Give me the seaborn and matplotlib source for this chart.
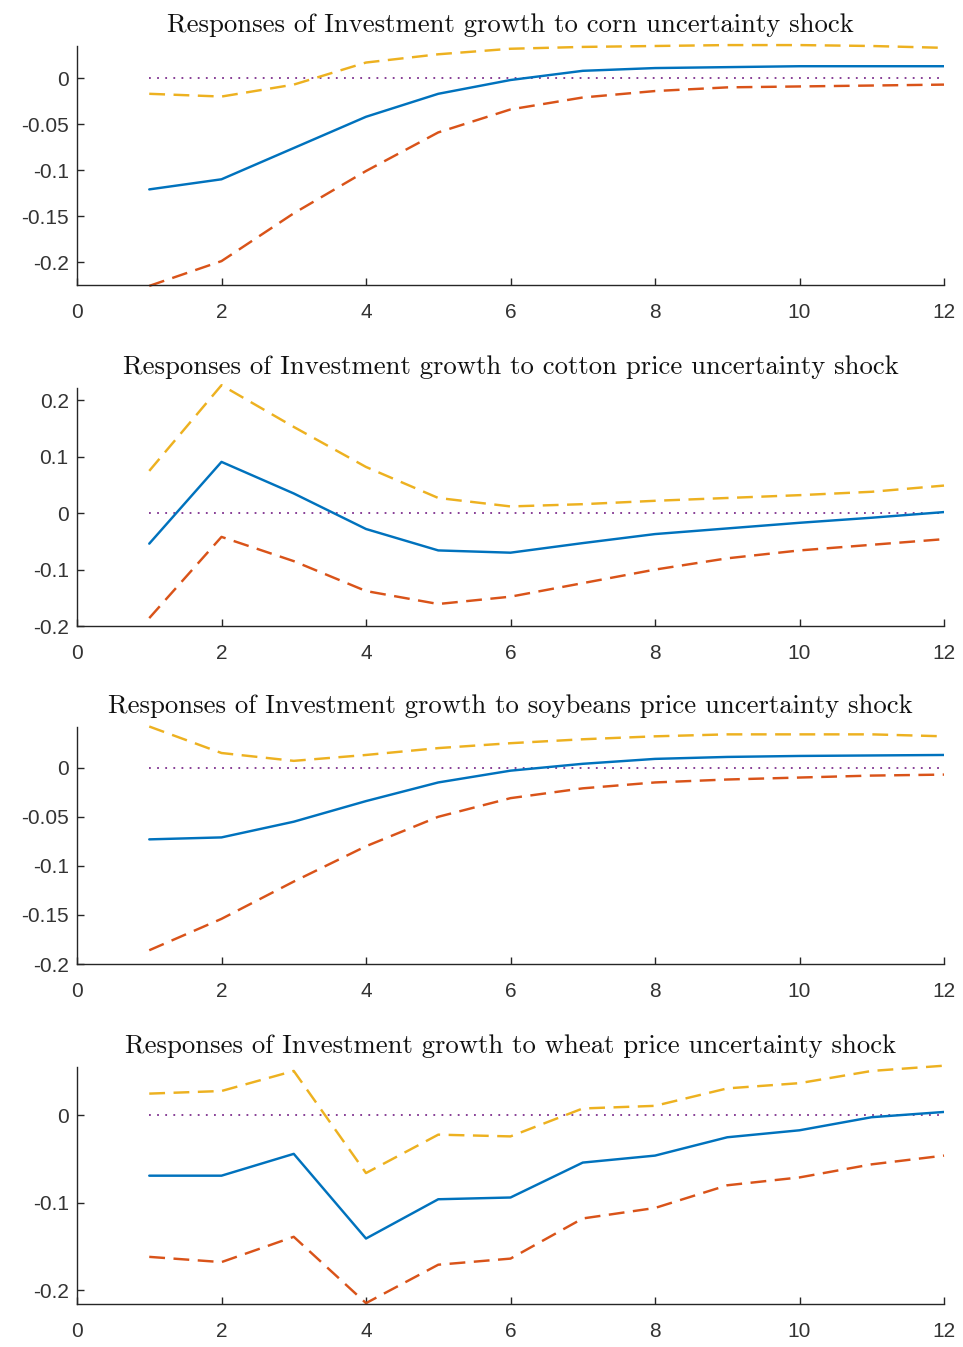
import numpy as np
import pandas as pd
import matplotlib
matplotlib.use("Agg")
import matplotlib.pyplot as plt
import seaborn as sns
from matplotlib.ticker import FuncFormatter

sns.set_theme(style="white")
plt.rcParams['font.family'] = ['Liberation Sans', 'DejaVu Sans']
plt.rcParams['axes.unicode_minus'] = False

horizon = list(range(1, 13))

titles = [
    "Responses of Investment growth to corn uncertainty shock",
    "Responses of Investment growth to cotton price uncertainty shock",
    "Responses of Investment growth to soybeans price uncertainty shock",
    "Responses of Investment growth to wheat price uncertainty shock",
]

corn_irf = [-0.121, -0.110, -0.076, -0.042, -0.017, -0.002, 0.008, 0.011, 0.012, 0.013, 0.013, 0.013]
corn_upper = [-0.017, -0.020, -0.007, 0.017, 0.026, 0.032, 0.034, 0.035, 0.036, 0.036, 0.035, 0.033]
corn_lower = [-0.226, -0.199, -0.147, -0.101, -0.059, -0.034, -0.021, -0.014, -0.010, -0.009, -0.008, -0.007]

cotton_irf = [-0.054, 0.091, 0.035, -0.028, -0.066, -0.070, -0.053, -0.037, -0.027, -0.017, -0.008, 0.002]
cotton_upper = [0.075, 0.227, 0.153, 0.082, 0.027, 0.012, 0.016, 0.022, 0.027, 0.032, 0.038, 0.049]
cotton_lower = [-0.186, -0.042, -0.085, -0.138, -0.161, -0.148, -0.124, -0.100, -0.080, -0.066, -0.056, -0.046]

soy_irf = [-0.073, -0.071, -0.055, -0.034, -0.015, -0.003, 0.004, 0.009, 0.011, 0.012, 0.0125, 0.013]
soy_upper = [0.042, 0.015, 0.007, 0.013, 0.020, 0.025, 0.029, 0.032, 0.034, 0.034, 0.034, 0.032]
soy_lower = [-0.186, -0.154, -0.116, -0.080, -0.050, -0.031, -0.021, -0.015, -0.012, -0.010, -0.008, -0.007]

wheat_irf = [-0.069, -0.069, -0.044, -0.141, -0.096, -0.094, -0.054, -0.046, -0.025, -0.017, -0.002, 0.004]
wheat_upper = [0.025, 0.028, 0.051, -0.066, -0.022, -0.024, 0.008, 0.011, 0.031, 0.037, 0.051, 0.057]
wheat_lower = [-0.162, -0.168, -0.139, -0.215, -0.171, -0.164, -0.118, -0.106, -0.080, -0.071, -0.056, -0.046]

zero_line = [0.0] * 12

panels = [
    (corn_irf, corn_upper, corn_lower),
    (cotton_irf, cotton_upper, cotton_lower),
    (soy_irf, soy_upper, soy_lower),
    (wheat_irf, wheat_upper, wheat_lower),
]

ylims = [(-0.225, 0.035), (-0.2, 0.222), (-0.2, 0.0415), (-0.216, 0.0555)]
yticks = [
    [-0.2, -0.15, -0.1, -0.05, 0],
    [-0.2, -0.1, 0, 0.1, 0.2],
    [-0.2, -0.15, -0.1, -0.05, 0],
    [-0.2, -0.1, 0],
]
xticks = [0, 2, 4, 6, 8, 10, 12]

W, H = 963, 1347
boxes = [(46, 285), (388, 626), (727, 964), (1067, 1304)]
left_px, right_px = 77, 944

c_blue = "#0072BD"
c_red = "#D95319"
c_yel = "#EDB120"
c_pur = "#7E2F8E"
c_txt = "#262626"

fig = plt.figure(figsize=(W / 100, H / 100), dpi=100)

fmt = FuncFormatter(lambda v, p: ("%g" % round(v, 4)))

for i, (irf, up, lo) in enumerate(panels):
    top, bot = boxes[i]
    ax = fig.add_axes([left_px / W, 1 - bot / H, (right_px - left_px) / W, (bot - top) / H])
    df = pd.DataFrame({"h": horizon, "irf": irf, "up": up, "lo": lo, "z": zero_line})
    sns.lineplot(data=df, x="h", y="z", ax=ax, color=c_pur, lw=1.3,
                 linestyle=(0, (1, 3.5)))
    sns.lineplot(data=df, x="h", y="up", ax=ax, color=c_yel, lw=1.75,
                 linestyle=(0, (6.5, 3.5)), clip_on=False)
    sns.lineplot(data=df, x="h", y="lo", ax=ax, color=c_red, lw=1.75,
                 linestyle=(0, (6.5, 3.5)), clip_on=False)
    sns.lineplot(data=df, x="h", y="irf", ax=ax, color=c_blue, lw=1.75)
    ax.set_xlim(0, 12)
    ax.set_ylim(*ylims[i])
    ax.set_xticks(xticks)
    ax.set_yticks(yticks[i])
    ax.yaxis.set_major_formatter(fmt)
    ax.set_xlabel("")
    ax.set_ylabel("")
    for s in ["top", "right"]:
        ax.spines[s].set_visible(False)
    for s in ["left", "bottom"]:
        ax.spines[s].set_color(c_txt)
        ax.spines[s].set_linewidth(1.0)
    ax.tick_params(direction="in", length=5, width=1.0, color=c_txt,
                   labelsize=15, labelcolor="#333333",
                   left=True, bottom=True)
    ax.tick_params(axis="x", pad=13)
    ax.tick_params(axis="y", pad=6)
    ax.set_title(titles[i], fontfamily="cmr10", fontsize=19.2, color="#111111", pad=10)
    ax.grid(False)

fig.savefig("out.png", dpi=100)
